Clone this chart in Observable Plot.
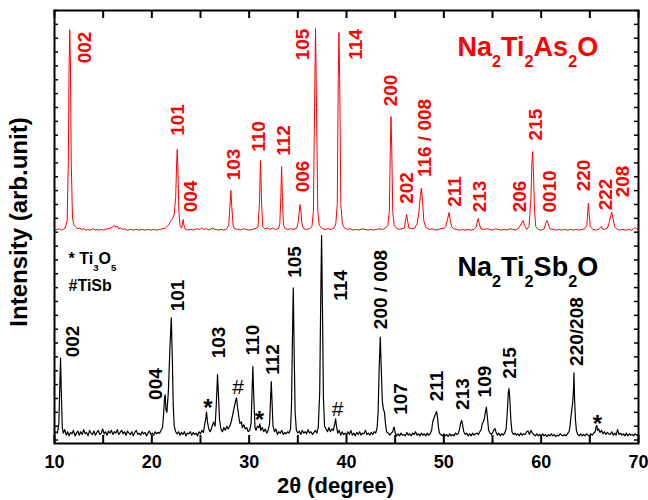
<!DOCTYPE html>
<html>
<head>
<meta charset="utf-8">
<script src="https://cdn.jsdelivr.net/npm/d3@7"></script>
<script src="https://cdn.jsdelivr.net/npm/@observablehq/plot@0.6"></script>
<style>
  html, body { margin: 0; padding: 0; background: #fff; }
</style>
</head>
<body>
<div id="chart"></div>
<script>
// ---------- DATA ----------
// Na2Ti2As2O pattern: [2theta (deg), intensity (arb.)] before stacking offset
const asPattern = [
[10.0,.15],[10.3,.2],[10.5,.25],[10.7,.15],[10.9,.2],[11.1,.3],[11.3,.8],[11.42,5.0],[11.5,12.0],[11.57,14.61],
[11.64,12.0],[11.72,5.0],[11.85,1.0],[12.0,.5],[12.2,.35],[12.4,.25],[12.6,.3],[12.8,.2],[13.0,.25],[13.2,.15],
[13.4,.2],[13.6,.15],[13.8,.2],[14.0,.25],[14.2,.15],[14.4,.2],[14.6,.15],[14.8,.2],[15.0,.15],[15.2,.2],
[15.5,.25],[15.8,.3],[16.0,.4],[16.15,.5],[16.3,.35],[16.45,.45],[16.6,.25],[16.8,.3],[17.0,.2],[17.2,.25],
[17.5,.15],[17.8,.2],[18.1,.15],[18.4,.2],[18.7,.15],[19.0,.2],[19.3,.15],[19.6,.2],[19.9,.15],[20.2,.2],
[20.5,.15],[20.8,.2],[21.1,.25],[21.4,.3],[21.7,.5],[21.95,.8],[22.15,1.0],[22.3,1.3],[22.45,2.5],[22.55,5.0],
[22.61,5.97],[22.68,4.5],[22.78,1.5],[22.9,.5],[23.05,.3],[23.15,.6],[23.22,.92],[23.3,.5],[23.45,.2],[23.7,.15],
[24.0,.2],[24.3,.15],[24.6,.25],[24.9,.2],[25.1,.3],[25.3,.2],[25.6,.25],[25.9,.15],[26.2,.3],[26.5,.2],
[26.8,.15],[27.1,.2],[27.4,.15],[27.7,.25],[27.9,.5],[28.02,1.8],[28.12,3.01],[28.22,1.8],[28.35,.5],[28.5,.25],
[28.8,.2],[29.1,.15],[29.4,.25],[29.7,.2],[30.0,.15],[30.3,.2],[30.6,.25],[30.9,.35],[31.05,2.0],[31.17,5.17],
[31.28,2.0],[31.4,.4],[31.6,.25],[31.9,.3],[32.1,.2],[32.4,.3],[32.7,.2],[33.0,.25],[33.15,.6],[33.25,2.5],
[33.33,4.74],[33.42,2.5],[33.52,.5],[33.7,.25],[34.0,.2],[34.3,.25],[34.6,.2],[34.9,.3],[35.05,.8],[35.21,2.0],
[35.32,1.5],[35.42,.6],[35.6,.25],[35.9,.2],[36.2,.25],[36.45,.4],[36.6,1.5],[36.72,9.0],[36.82,14.70],[36.92,9.0],
[37.05,1.5],[37.2,.5],[37.5,.25],[37.8,.2],[38.1,.25],[38.4,.2],[38.7,.3],[38.9,.6],[39.05,2.0],[39.15,11.0],
[39.22,14.41],[39.3,11.0],[39.42,2.0],[39.58,.6],[39.8,.3],[40.1,.2],[40.4,.25],[40.7,.15],[41.0,.2],[41.3,.15],
[41.6,.25],[41.9,.2],[42.2,.15],[42.5,.2],[42.8,.15],[43.1,.2],[43.4,.25],[43.7,.2],[44.0,.3],[44.25,.5],
[44.4,1.5],[44.5,6.0],[44.57,8.35],[44.65,6.0],[44.75,1.5],[44.9,.5],[45.1,.3],[45.4,.2],[45.7,.25],[45.95,.3],
[46.08,.9],[46.18,1.28],[46.28,.8],[46.42,.3],[46.7,.25],[47.0,.3],[47.25,.6],[47.45,1.5],[47.6,2.7],[47.69,3.18],
[47.8,2.3],[47.95,.8],[48.15,.35],[48.5,.2],[48.8,.25],[49.1,.15],[49.4,.2],[49.7,.25],[50.0,.3],[50.2,.4],
[50.4,1.0],[50.53,1.42],[50.65,.9],[50.8,.4],[51.0,.25],[51.3,.2],[51.6,.15],[51.9,.2],[52.2,.15],[52.5,.2],
[52.8,.15],[53.1,.2],[53.35,.4],[53.48,.9],[53.54,.99],[53.65,.6],[53.8,.25],[54.1,.2],[54.4,.25],[54.7,.2],
[55.0,.15],[55.3,.25],[55.6,.2],[55.9,.15],[56.2,.2],[56.5,.15],[56.8,.25],[57.1,.2],[57.4,.15],[57.7,.3],
[57.95,.6],[58.13,.84],[58.3,.5],[58.5,.2],[58.75,.4],[58.95,2.5],[59.05,5.0],[59.13,5.82],[59.22,4.0],[59.32,1.5],
[59.45,.4],[59.7,.2],[60.0,.15],[60.3,.25],[60.5,.7],[60.6,.84],[60.72,.6],[60.9,.25],[61.2,.2],[61.5,.15],
[61.8,.2],[62.1,.15],[62.4,.2],[62.7,.15],[63.0,.2],[63.3,.15],[63.6,.2],[63.9,.15],[64.2,.2],[64.5,.25],
[64.7,.5],[64.78,1.5],[64.85,2.07],[64.93,1.3],[65.05,.4],[65.3,.2],[65.6,.15],[65.9,.2],[66.1,.35],[66.19,.43],
[66.28,.25],[66.5,.2],[66.8,.3],[67.0,.7],[67.15,1.2],[67.25,1.44],[67.38,1.0],[67.55,.4],[67.8,.2],[68.1,.15],
[68.4,.2],[68.7,.15],[69.0,.2],[69.3,.15],[69.5,.25],[69.65,.35],[69.8,.25],[70.0,.2]
];

// Na2Ti2Sb2O pattern: [2theta (deg), intensity (arb.)]
const sbPattern = [
[10.0,.45],[10.15,.6],[10.3,.5],[10.45,1.2],[10.55,4.0],[10.62,5.91],[10.7,3.5],[10.8,.9],[10.9,.5],[11.05,.75],
[11.2,.35],[11.35,.6],[11.5,.3],[11.65,.55],[11.8,.45],[11.95,.7],[12.1,.3],[12.25,.5],[12.4,.65],[12.55,.35],
[12.7,.6],[12.85,.4],[13.0,.75],[13.15,.45],[13.3,.55],[13.45,.3],[13.6,.7],[13.75,.5],[13.9,.4],[14.05,.65],
[14.2,.35],[14.35,.55],[14.5,.7],[14.65,.4],[14.8,.5],[14.95,.8],[15.1,.45],[15.25,.6],[15.4,.35],[15.55,.65],
[15.7,.5],[15.85,.7],[16.0,.4],[16.15,.6],[16.3,.5],[16.45,.75],[16.6,.4],[16.75,.55],[16.9,.7],[17.05,.45],
[17.2,.6],[17.35,.35],[17.5,.65],[17.65,.5],[17.8,.4],[17.95,.6],[18.1,.3],[18.25,.55],[18.4,.7],[18.55,.4],
[18.7,.5],[18.85,.35],[19.0,.6],[19.15,.45],[19.3,.55],[19.45,.3],[19.6,.5],[19.75,.65],[19.9,.4],[20.05,.5],
[20.2,.35],[20.35,.6],[20.5,.45],[20.65,.55],[20.8,.5],[20.95,.7],[21.1,.9],[21.2,1.8],[21.3,3.0],[21.37,3.26],
[21.45,2.2],[21.55,2.0],[21.7,3.5],[21.85,6.5],[22.0,8.82],[22.1,6.0],[22.2,2.5],[22.3,1.0],[22.45,.6],[22.6,.45],
[22.75,.6],[22.9,.35],[23.05,.55],[23.2,.4],[23.35,.6],[23.5,.3],[23.65,.5],[23.8,.45],[23.95,.6],[24.1,.35],
[24.25,.55],[24.4,.4],[24.55,.5],[24.7,.3],[24.85,.6],[25.0,.45],[25.15,.7],[25.3,.55],[25.45,1.2],[25.55,1.6],
[25.62,2.01],[25.72,1.3],[25.85,.8],[26.0,.6],[26.15,.9],[26.35,1.3],[26.5,1.0],[26.62,2.5],[26.75,4.73],[26.85,3.2],
[26.95,1.5],[27.1,.8],[27.25,.6],[27.4,.9],[27.55,.7],[27.7,1.0],[27.85,.8],[28.0,1.0],[28.15,1.3],[28.3,1.8],
[28.45,2.3],[28.6,2.8],[28.7,3.05],[28.8,2.4],[28.95,1.6],[29.05,1.2],[29.2,1.3],[29.3,.9],[29.45,1.1],[29.6,.8],
[29.75,.9],[29.9,.6],[30.05,.7],[30.2,1.2],[30.3,3.5],[30.38,5.31],[30.48,3.0],[30.6,.9],[30.7,.7],[30.85,1.0],
[31.0,.9],[31.1,1.17],[31.2,.7],[31.35,.9],[31.5,.6],[31.65,.8],[31.8,.5],[31.95,.7],[32.1,1.2],[32.2,3.0],
[32.27,4.22],[32.35,2.8],[32.45,1.0],[32.6,.6],[32.75,.8],[32.9,.4],[33.05,.6],[33.2,.5],[33.35,.7],[33.5,.4],
[33.65,.55],[33.8,.45],[33.95,.6],[34.1,.5],[34.25,.8],[34.35,2.5],[34.45,7.5],[34.53,10.99],[34.62,6.5],[34.72,2.0],
[34.85,.7],[35.0,.5],[35.15,.65],[35.3,.4],[35.45,.7],[35.6,.5],[35.75,.6],[35.9,.45],[36.05,.75],[36.2,.5],
[36.35,.6],[36.5,.4],[36.65,.55],[36.8,.7],[36.95,.5],[37.1,.9],[37.25,3.5],[37.35,10.0],[37.44,14.76],[37.53,9.5],
[37.63,3.0],[37.75,1.0],[37.9,.8],[38.05,.6],[38.2,.9],[38.35,.6],[38.5,.8],[38.65,.7],[38.8,1.2],[38.88,1.53],
[38.97,1.0],[39.1,.5],[39.25,.7],[39.4,.35],[39.55,.6],[39.7,.4],[39.85,.5],[40.0,.35],[40.15,.6],[40.3,.4],
[40.45,.7],[40.6,.35],[40.75,.5],[40.9,.3],[41.05,.55],[41.2,.4],[41.35,.6],[41.5,.35],[41.65,.5],[41.8,.45],
[41.95,.7],[42.1,.4],[42.25,.5],[42.4,.35],[42.55,.55],[42.7,.4],[42.85,.6],[43.0,.5],[43.15,.9],[43.25,2.0],
[43.35,5.0],[43.47,7.42],[43.58,5.0],[43.68,2.8],[43.8,2.2],[43.9,2.01],[44.0,1.2],[44.12,.6],[44.3,.5],[44.45,.35],
[44.6,.5],[44.75,.6],[44.85,.9],[44.91,.93],[45.0,.5],[45.15,.3],[45.3,.45],[45.45,.3],[45.6,.5],[45.75,.35],
[45.9,.4],[46.05,.3],[46.2,.55],[46.35,.35],[46.5,.45],[46.65,.3],[46.8,.5],[46.95,.4],[47.1,.6],[47.25,.35],
[47.4,.45],[47.55,.3],[47.7,.5],[47.85,.35],[48.0,.45],[48.15,.3],[48.3,.5],[48.45,.35],[48.6,.45],[48.75,.7],
[48.85,1.3],[48.95,1.5],[49.05,1.7],[49.15,1.9],[49.26,2.06],[49.36,1.6],[49.45,.9],[49.55,.5],[49.7,.4],[49.85,.3],
[50.0,.45],[50.15,.3],[50.3,.4],[50.45,.25],[50.6,.45],[50.75,.3],[50.9,.4],[51.05,.3],[51.2,.5],[51.35,.4],
[51.5,.5],[51.62,.8],[51.72,1.2],[51.83,1.41],[51.93,1.1],[52.05,.6],[52.2,.4],[52.35,.5],[52.5,.3],[52.65,.45],
[52.8,.3],[52.95,.5],[53.1,.35],[53.25,.45],[53.4,.5],[53.55,.4],[53.7,.6],[53.85,.8],[53.95,1.2],[54.05,1.3],
[54.15,1.5],[54.27,2.0],[54.37,2.37],[54.47,1.7],[54.6,.7],[54.75,.5],[54.9,.4],[55.05,.6],[55.15,.75],[55.25,.83],
[55.35,.6],[55.5,.35],[55.65,.5],[55.8,.3],[55.95,.45],[56.1,.35],[56.25,.5],[56.4,.8],[56.52,2.0],[56.62,3.4],
[56.69,3.72],[56.78,3.0],[56.88,1.5],[57.0,.6],[57.15,.4],[57.3,.5],[57.45,.35],[57.6,.45],[57.75,.3],[57.9,.5],
[58.05,.35],[58.2,.45],[58.35,.4],[58.5,.6],[58.65,.65],[58.8,.4],[58.95,.7],[59.1,.5],[59.25,.4],[59.4,.3],
[59.55,.45],[59.7,.3],[59.85,.4],[60.0,.3],[60.15,.45],[60.3,.3],[60.45,.4],[60.6,.25],[60.75,.4],[60.9,.3],
[61.05,.45],[61.2,.3],[61.35,.4],[61.5,.25],[61.65,.35],[61.8,.3],[61.95,.45],[62.1,.35],[62.25,.3],[62.4,.4],
[62.55,.3],[62.7,.45],[62.85,.6],[62.95,.9],[63.05,1.6],[63.15,2.2],[63.25,2.8],[63.32,3.6],[63.37,4.85],[63.43,3.0],
[63.52,1.5],[63.62,.7],[63.75,.4],[63.9,.3],[64.05,.45],[64.2,.3],[64.35,.4],[64.5,.3],[64.65,.45],[64.8,.35],
[64.95,.3],[65.1,.45],[65.25,.35],[65.4,.5],[65.55,.6],[65.65,1.0],[65.72,1.05],[65.8,.7],[65.9,.8],[66.05,.55],
[66.2,.7],[66.35,.45],[66.5,.6],[66.65,.4],[66.8,.55],[66.95,.45],[67.1,.4],[67.25,.6],[67.4,.35],[67.55,.5],
[67.7,.35],[67.85,.75],[68.0,.4],[68.15,.5],[68.3,.35],[68.45,.45],[68.6,.3],[68.75,.5],[68.9,.3],[69.05,.45],
[69.2,.35],[69.35,.4],[69.5,.3],[69.65,.45],[69.8,.35],[69.95,.4]
];

// Vertical stacking offset of the arsenide pattern
const asOffset = 15;

// Axis ticks and labels
const xTickValues = [10, 15, 20, 25, 30, 35, 40, 45, 50, 55, 60, 65, 70];
const xTickLabels = [10, 20, 30, 40, 50, 60, 70];
const yTickValues = d3.range(0, 32);
const xLabel = "2θ (degree)";
const yLabel = "Intensity (arb.unit)";

// Peak (hkl) labels: text, 2theta, intensity placement
const asPeakNames = ["002","101","004","103","110","112","006","105","114","200","202","116 / 008","211","213","206","215","0010","220","222","208"];
const asPeakX     = [13.08,22.69,23.97,28.39,31.01,33.53,35.48,35.48,40.98,44.52,46.17,48.07,51.10,53.72,57.83,59.42,60.91,64.40,66.66,68.41];
const asPeakY     = [28.33,23.10,17.58,19.89,21.91,21.62,19.02,28.55,28.55,25.23,18.19,21.80,17.94,17.58,17.58,22.77,17.94,19.09,17.72,18.66];

const sbPeakNames = ["002","004","101","103","110","112","105","114","200 / 008","107","211","213","109","215","220/208"];
const sbPeakX     = [11.90,20.38,22.69,26.90,30.39,32.45,34.66,39.38,43.55,45.55,49.25,51.97,54.23,56.80,63.63];
const sbPeakY     = [7.11,4.04,10.43,7.04,7.22,5.81,12.85,11.15,10.86,2.96,3.90,3.32,4.22,5.56,7.83];

// Impurity markers (* Ti3O5, # TiSb)
const impuritySymbols = ["*","#","*","#","*"];
const impurityX       = [25.77,28.85,31.06,39.08,65.79];
const impurityY       = [2.71,3.90,1.84,2.28,1.59];

const asTitle = "Na2Ti2As2O";
const sbTitle = "Na2Ti2Sb2O";
const legendLines = ["* Ti3O5", "#TiSb"];

// ---------- BUILD ----------
const asData = asPattern.map(([t, v]) => ({t, v: v + asOffset}));
const sbData = sbPattern.map(([t, v]) => ({t, v}));
const asLabels = asPeakNames.map((text, i) => ({text, x: asPeakX[i], y: asPeakY[i]}));
const sbLabels = sbPeakNames.map((text, i) => ({text, x: sbPeakX[i], y: sbPeakY[i]}));
const impurities = impuritySymbols.map((text, i) => ({text, x: impurityX[i], y: impurityY[i]}));

const W = 648, H = 500, mL = 54, mR = 10, mT = 10, mB = 57;
const fw = W - mL - mR, fh = H - mT - mB;
const font = "'Liberation Sans', Arial, Helvetica, sans-serif";
const RED = "#ff0000";

const chart = Plot.plot({
  width: W, height: H,
  marginLeft: mL, marginRight: mR, marginTop: mT, marginBottom: mB,
  x: {domain: [10, 70], axis: null},
  y: {domain: [-0.25, 31], axis: null},
  style: {fontFamily: font, background: "#fff", color: "#000", overflow: "visible"},
  marks: [
    Plot.line(sbData, {x: "t", y: "v", stroke: "#000", strokeWidth: 1.2}),
    Plot.line(asData, {x: "t", y: "v", stroke: RED, strokeWidth: 1}),
    Plot.frame({stroke: "#000", strokeWidth: 2}),
    Plot.tickX(xTickValues, {x: d => d, insetTop: fh - 8, stroke: "#000", strokeWidth: 2}),
    Plot.tickX(xTickValues, {x: d => d, insetBottom: fh - 8, stroke: "#000", strokeWidth: 2}),
    Plot.tickY(yTickValues, {y: d => d, insetRight: fw - 4, stroke: "#000", strokeWidth: 1.5}),
    Plot.tickY(yTickValues, {y: d => d, insetLeft: fw - 4, stroke: "#000", strokeWidth: 1.5}),
    Plot.text(xTickLabels, {x: d => d, frameAnchor: "bottom", lineAnchor: "middle", textAnchor: "middle",
      dy: 19, text: d => String(d), fontSize: 18, fontWeight: "bold", fill: "#000"}),
    Plot.text([xLabel], {frameAnchor: "bottom", lineAnchor: "middle", textAnchor: "middle",
      dx: -11, dy: 42, text: d => d, fontSize: 22, fontWeight: "bold", fill: "#000"}),
    Plot.text([yLabel], {frameAnchor: "left", lineAnchor: "middle", textAnchor: "middle",
      dx: -35, dy: -5, rotate: -90, text: d => d, fontSize: 24, fontWeight: "bold", fill: "#000"}),
    Plot.text(asLabels, {x: "x", y: "y", text: "text", rotate: -90,
      fontSize: 19, fontWeight: "bold", fill: RED}),
    Plot.text(sbLabels, {x: "x", y: "y", text: "text", rotate: -90,
      fontSize: 19, fontWeight: "bold", fill: "#000"}),
    Plot.text(impurities.filter(d => d.text === "*"), {x: "x", y: "y", text: "text", dy: 6,
      fontSize: 24, fontWeight: "bold", fill: "#000"}),
    Plot.text(impurities.filter(d => d.text === "#"), {x: "x", y: "y", text: "text", dy: 1,
      fontSize: 21, fill: "#000"}),
    Plot.text([asTitle], {x: () => 51.41, y: () => 27.75, text: d => d, textAnchor: "start", lineAnchor: "bottom",
      fontSize: 27, fontWeight: "bold", fill: RED}),
    Plot.text([sbTitle], {x: () => 51.41, y: () => 11.87, text: d => d, textAnchor: "start", lineAnchor: "bottom",
      fontSize: 27, fontWeight: "bold", fill: "#000"}),
    Plot.text([legendLines[0]], {x: () => 11.44, y: () => 12.72, text: d => d, textAnchor: "start", lineAnchor: "bottom",
      fontSize: 16, fontWeight: "bold", fill: "#000"}),
    Plot.text([legendLines[1]], {x: () => 11.44, y: () => 10.79, text: d => d, textAnchor: "start", lineAnchor: "bottom",
      fontSize: 16, fontWeight: "bold", fill: "#000"})
  ]
});

// Chemical-formula subscripts
const formulaSizes = new Map([[asTitle, 27], [sbTitle, 27], [legendLines[0], 16]]);
d3.select(chart).selectAll("text").each(function () {
  const s = this.textContent;
  if (!formulaSizes.has(s) || this.children.length) return;
  const fs = formulaSizes.get(s);
  const shift = fs * 0.43;
  this.textContent = "";
  let down = false;
  for (const part of s.match(/\d+|\D+/g)) {
    const ts = document.createElementNS("http://www.w3.org/2000/svg", "tspan");
    if (/^\d+$/.test(part)) {
      ts.setAttribute("font-size", (fs * 0.6).toFixed(1));
      ts.setAttribute("dy", shift.toFixed(1));
      down = true;
    } else if (down) {
      ts.setAttribute("dy", (-shift).toFixed(1));
      down = false;
    }
    ts.textContent = part;
    this.appendChild(ts);
  }
});

document.getElementById("chart").appendChild(chart);
</script>
</body>
</html>
